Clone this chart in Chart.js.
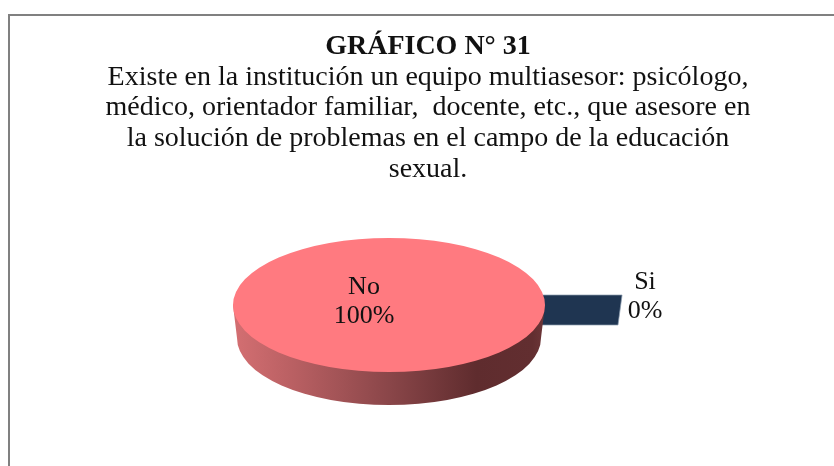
<!DOCTYPE html>
<html><head><meta charset="utf-8">
<style>html,body{margin:0;padding:0;background:#fff}canvas{display:block}</style>
<script src="https://cdn.jsdelivr.net/npm/chart.js@4"></script></head>
<body><canvas id="c" width="834" height="466"></canvas>
<script>
const categories = ['No', 'Si'];
const values = [100, 0];
const sliceColors = ['#ff7a80', '#1f3551'];
const titleText = 'GRÁFICO N° 31';
const subtitleLines = [
  'Existe en la institución un equipo multiasesor: psicólogo,',
  'médico, orientador familiar,  docente, etc., que asesore en',
  'la solución de problemas en el campo de la educación',
  'sexual.'
];
const FONT = '"Liberation Serif", serif';
const SQUISH = 67 / 156, DEPTH = 33;

const frame = {
  id: 'frame',
  beforeDraw(chart) {
    const c = chart.ctx;
    c.save();
    c.fillStyle = '#fff'; c.fillRect(0, 0, 834, 466);
    c.strokeStyle = '#808080'; c.lineWidth = 2;
    c.beginPath(); c.moveTo(9, 466); c.lineTo(9, 15); c.lineTo(834, 15); c.stroke();
    c.fillStyle = '#111'; c.textAlign = 'center'; c.textBaseline = 'middle';
    c.font = 'bold 28px ' + FONT;
    c.fillText(titleText, 428, 47);
    c.font = '28px ' + FONT;
    subtitleLines.forEach((t, i) => c.fillText(t, 428, 77.5 + i * 30.6));
    c.restore();
  }
};
const pie3d = {
  id: 'pie3d',
  beforeDatasetsDraw(chart) {
    const c = chart.ctx, arcs = chart.getDatasetMeta(0).data;
    const { x, y, outerRadius: R } = arcs[0];
    c.save();
    // zero-value slice: only its radial face shows, pulled out to the right
    c.fillStyle = sliceColors[1];
    c.strokeStyle = '#8c9db0'; c.lineWidth = 0.7;
    c.beginPath();
    c.moveTo(x + R * 0.9, y - 10);
    c.lineTo(x + R * 1.494, y - 10);
    c.lineTo(x + R * 1.468, y + 20);
    c.lineTo(x + R * 0.9, y + 20);
    c.closePath(); c.fill(); c.stroke();
    // rim
    const g = c.createLinearGradient(x - R, 0, x + R, 0);
    g.addColorStop(0, '#d46f72');
    g.addColorStop(0.2, '#b85f62');
    g.addColorStop(0.5, '#8a4649');
    g.addColorStop(0.78, '#5f2c2e');
    g.addColorStop(0.96, '#622e30');
    g.addColorStop(1, '#6e3739');
    c.fillStyle = g;
    c.beginPath();
    c.moveTo(x - R, y);
    c.lineTo(x - R + 4, y + DEPTH);
    c.ellipse(x, y + DEPTH, R - 4, R * SQUISH, 0, Math.PI, 0, true);
    c.lineTo(x + R, y);
    c.closePath(); c.fill();
    c.restore();
    c.save();
    c.translate(x, y); c.scale(1, SQUISH); c.translate(-x, -y);
  },
  afterDatasetsDraw(chart) { chart.ctx.restore(); },
  afterDraw(chart) {
    const c = chart.ctx, arcs = chart.getDatasetMeta(0).data;
    const { x, y } = arcs[0];
    const total = values.reduce((a, b) => a + b, 0);
    const label = (i, px, py) => {
      c.fillText(categories[i], px, py);
      c.fillText(Math.round(values[i] / total * 100) + '%', px, py + 29.5);
    };
    c.save();
    c.font = '26px ' + FONT; c.fillStyle = '#111';
    c.textAlign = 'center'; c.textBaseline = 'middle';
    label(0, x - 25, y - 18);
    label(1, x + 256, y - 23);
    c.restore();
  }
};
new Chart(document.getElementById('c'), {
  type: 'pie',
  data: { labels: categories, datasets: [{ data: values, backgroundColor: sliceColors, borderWidth: 0 }] },
  options: {
    responsive: false, animation: false, rotation: 90,
    layout: { padding: { left: 233, right: 289, top: 149, bottom: 5 } },
    plugins: { legend: { display: false }, tooltip: { enabled: false } }
  },
  plugins: [frame, pie3d]
});
</script></body></html>
